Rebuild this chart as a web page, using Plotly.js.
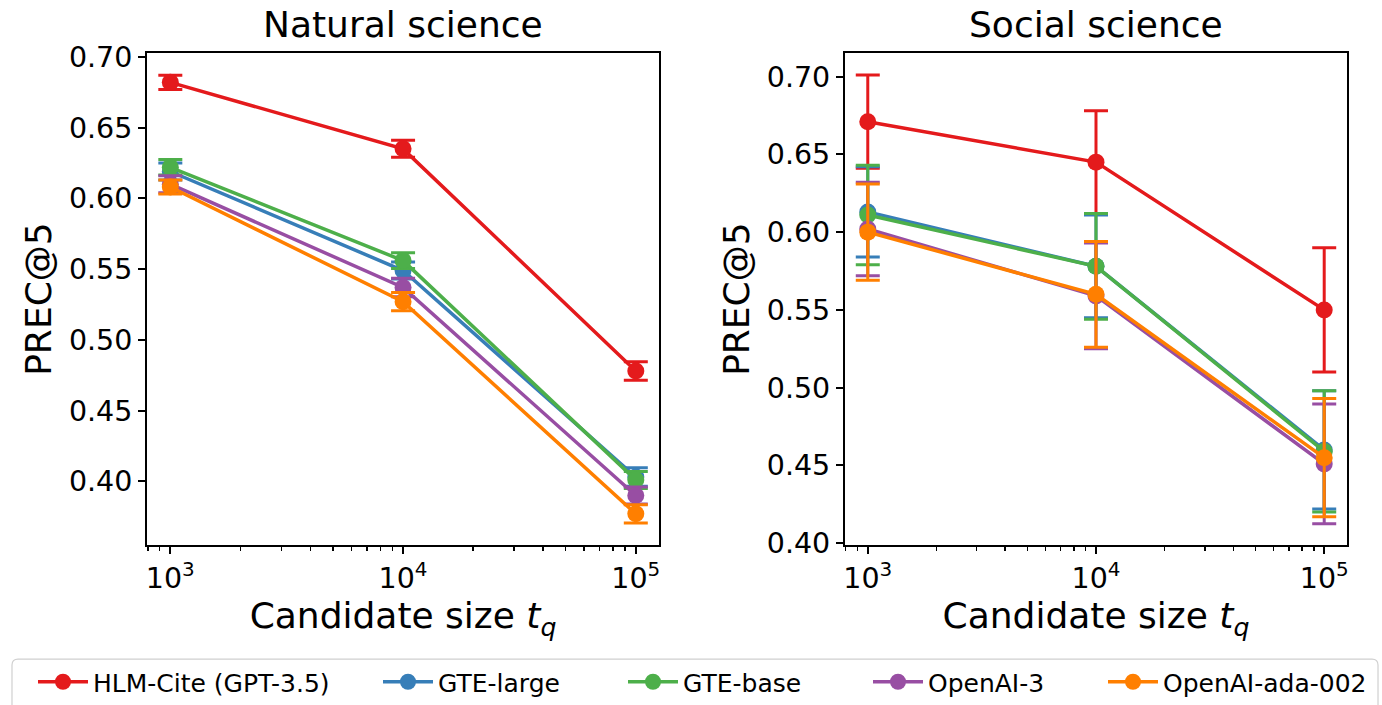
<!DOCTYPE html>
<html>
<head>
<meta charset="utf-8">
<script src="https://cdn.plot.ly/plotly-3.0.1.min.js"></script>
<style>html,body{margin:0;padding:0;background:#fff;}#chart{width:1382px;height:705px;}</style>
</head>
<body>
<div id="chart"></div>
<script>
// ---- data ----
const candidateSizes = [1000, 10000, 100000];
const seriesNames = ["HLM-Cite (GPT-3.5)", "GTE-large", "GTE-base", "OpenAI-3", "OpenAI-ada-002"];
const seriesColors = ["#e41a1c", "#377eb8", "#4daf4a", "#984ea3", "#ff7f00"];

// Natural science
const natHLM = [0.682, 0.635, 0.478];
const natHLMErr = [0.005, 0.006, 0.0065];
const natGTELarge = [0.619, 0.549, 0.403];
const natGTELargeErr = [0.006, 0.006, 0.0065];
const natGTEBase = [0.622, 0.556, 0.401];
const natGTEBaseErr = [0.0055, 0.0055, 0.006];
const natOpenAI3 = [0.610, 0.537, 0.390];
const natOpenAI3Err = [0.006, 0.0065, 0.006];
const natAda = [0.608, 0.527, 0.377];
const natAdaErr = [0.005, 0.0065, 0.0065];

// Social science
const socHLM = [0.671, 0.645, 0.550];
const socHLMErr = [0.030, 0.033, 0.040];
const socGTELarge = [0.613, 0.578, 0.460];
const socGTELargeErr = [0.029, 0.033, 0.038];
const socGTEBase = [0.611, 0.578, 0.459];
const socGTEBaseErr = [0.032, 0.034, 0.039];
const socOpenAI3 = [0.602, 0.559, 0.451];
const socOpenAI3Err = [0.030, 0.034, 0.0385];
const socAda = [0.600, 0.560, 0.455];
const socAdaErr = [0.031, 0.034, 0.038];

const xTickVals = [1000, 10000, 100000];
const xTickText = ["10<sup>3</sup>", "10<sup>4</sup>", "10<sup>5</sup>"];
const panelTitles = ["Natural science", "Social science"];
const yTitle = "PREC@5";
const xTitle = "Candidate size <i>t<sub>q</sub></i>";

// ---- build ----
const natVals = [natHLM, natGTELarge, natGTEBase, natOpenAI3, natAda];
const natErrs = [natHLMErr, natGTELargeErr, natGTEBaseErr, natOpenAI3Err, natAdaErr];
const socVals = [socHLM, socGTELarge, socGTEBase, socOpenAI3, socAda];
const socErrs = [socHLMErr, socGTELargeErr, socGTEBaseErr, socOpenAI3Err, socAdaErr];
const legendIds = ["legend", "legend2", "legend3", "legend4", "legend5"];
// left edge (px) of each legend entry's text
const legendTextLeft = [95, 440, 685, 930, 1165];

const traces = [];
function addTraces(vals, errs, xa, ya, showLegend) {
  for (let i = 0; i < seriesNames.length; i++) {
    traces.push({
      type: "scatter",
      mode: "lines+markers",
      x: candidateSizes,
      y: vals[i],
      name: seriesNames[i],
      legendgroup: seriesNames[i],
      legend: legendIds[i],
      showlegend: showLegend,
      xaxis: xa, yaxis: ya,
      line: {color: seriesColors[i], width: 3.5},
      marker: {color: seriesColors[i], size: 17},
      error_y: {type: "data", array: errs[i], visible: true, color: seriesColors[i], thickness: 3, width: 12}
    });
  }
}
addTraces(natVals, natErrs, "x", "y", true);
addTraces(socVals, socErrs, "x2", "y2", false);

const FF = "DejaVu Sans, sans-serif";
function xAxis(domain, anchor) {
  return {
    type: "log", domain: domain, anchor: anchor,
    range: [2.9, 5.1],
    tickvals: xTickVals, ticktext: xTickText,
    ticks: "outside", ticklen: 7, tickwidth: 2, tickcolor: "#000",
    minor: {ticks: "outside", ticklen: 4, tickwidth: 1.5, tickcolor: "#000", dtick: "D1", showgrid: false},
    showline: true, mirror: true, linecolor: "#000", linewidth: 2,
    showgrid: false, zeroline: false,
    tickfont: {family: FF, size: 28.5, color: "#000"},
    title: {text: xTitle, font: {family: FF, size: 36, color: "#000"}, standoff: 8},
    automargin: false
  };
}
function yAxis(domain, anchor, range) {
  return {
    domain: domain, anchor: anchor, range: range,
    dtick: 0.05, tick0: 0, tickformat: ".2f",
    ticks: "outside", ticklen: 7, tickwidth: 2, tickcolor: "#000",
    showline: true, mirror: true, linecolor: "#000", linewidth: 2,
    showgrid: false, zeroline: false,
    tickfont: {family: FF, size: 28.5, color: "#000"},
    title: {text: yTitle, font: {family: FF, size: 36, color: "#000"}, standoff: 6},
    automargin: false
  };
}

const W = 1382, H = 705;
const yDom = [0.2255, 0.9248];
const layout = {
  width: W, height: H,
  margin: {l: 0, r: 0, t: 0, b: 0},
  paper_bgcolor: "#fff", plot_bgcolor: "#fff",
  font: {family: FF, color: "#000"},
  xaxis: xAxis([0.1064, 0.4769], "y"),
  yaxis: yAxis(yDom, "x", [0.3548, 0.7028]),
  xaxis2: xAxis([0.6114, 0.9747], "y2"),
  yaxis2: yAxis(yDom, "x2", [0.3987, 0.7152]),
  showlegend: true,
  annotations: [
    {text: panelTitles[0], xref: "paper", yref: "paper", x: (0.1064 + 0.4769) / 2, y: 0.9645, xanchor: "center", yanchor: "middle", showarrow: false, font: {family: FF, size: 36, color: "#000"}},
    {text: panelTitles[1], xref: "paper", yref: "paper", x: (0.6114 + 0.9747) / 2, y: 0.9645, xanchor: "center", yanchor: "middle", showarrow: false, font: {family: FF, size: 36, color: "#000"}}
  ],
  shapes: []
};
for (let i = 0; i < legendIds.length; i++) {
  layout[legendIds[i]] = {
    orientation: "h",
    x: (legendTextLeft[i] - 62) / W, xanchor: "left",
    y: (H - 683) / H, yanchor: "middle",
    bgcolor: "rgba(0,0,0,0)", borderwidth: 0,
    font: {family: FF, size: 25, color: "#000"},
    itemwidth: 50
  };
}
// legend frame (rounded rectangle) in paper coordinates
(function () {
  const x0 = 12, x1 = 1378, y0 = 660, y1 = 712, r = 6;
  const px = v => (v / W).toFixed(5), py = v => ((H - v) / H).toFixed(5);
  const d = "M" + px(x0 + r) + "," + py(y0) + " L" + px(x1 - r) + "," + py(y0) +
    " Q" + px(x1) + "," + py(y0) + " " + px(x1) + "," + py(y0 + r) +
    " L" + px(x1) + "," + py(y1) + " L" + px(x0) + "," + py(y1) +
    " L" + px(x0) + "," + py(y0 + r) + " Q" + px(x0) + "," + py(y0) + " " + px(x0 + r) + "," + py(y0) + " Z";
  layout.shapes.push({type: "path", xref: "paper", yref: "paper", path: d, line: {color: "#d0d0d0", width: 1.2}, fillcolor: "rgba(255,255,255,0.8)", layer: "below"});
})();

Plotly.newPlot("chart", traces, layout, {displayModeBar: false, staticPlot: true});
</script>
</body>
</html>
